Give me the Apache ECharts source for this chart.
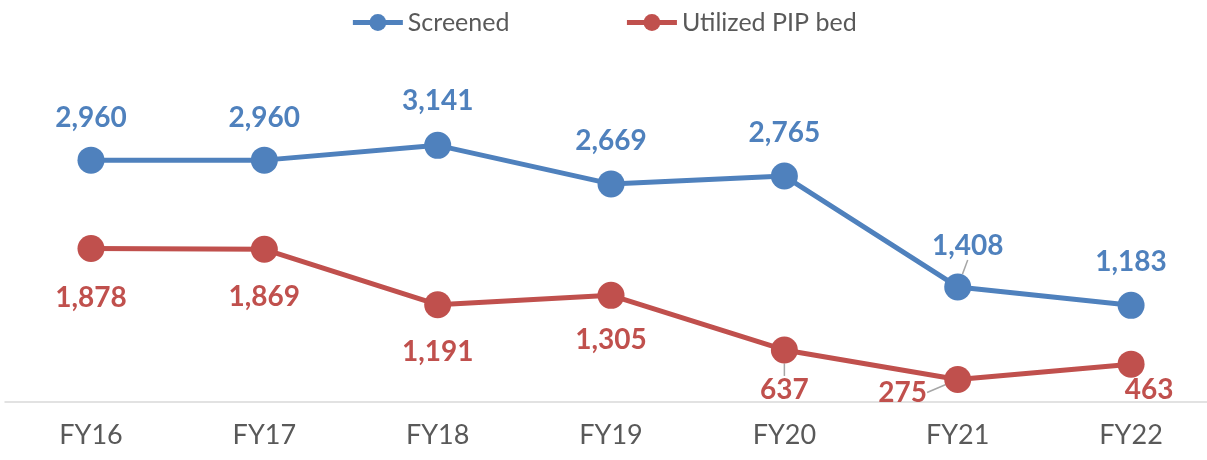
<!DOCTYPE html>
<html>
<head>
<meta charset="utf-8">
<script src="https://cdn.jsdelivr.net/npm/echarts@6/dist/echarts.min.js"></script>
<style>
  html, body { margin: 0; padding: 0; background: #fff; }
  #chart-container { width: 1207px; height: 460px; }
</style>
</head>
<body>
<div id="chart-container"></div>
<script>
var years = ['FY16', 'FY17', 'FY18', 'FY19', 'FY20', 'FY21', 'FY22'];
var screened = [2960, 2960, 3141, 2669, 2765, 1408, 1183];
var utilized = [1878, 1869, 1191, 1305, 637, 275, 463];

// label offsets per point (px from marker centre), and which ones get a leader line
var screenedOffsets = [[0, -42], [0, -42], [0, -44], [0, -43], [0, -43], [10, -41], [0, -43]];
var utilizedOffsets = [[0, 49], [0, 48], [0, 47], [0, 45], [0, 40], [-55, 13], [18, 26]];
var screenedLeader = [false, false, false, false, false, true, false];
var utilizedLeader = [false, false, false, false, true, true, false];

var blue = '#4F81BD';
var red = '#C0504D';
var font = 'Lato, "Open Sans", sans-serif';

function withLabels(values, color, leaders) {
    return values.map(function (v, i) {
        return {
            value: [i, v],
            label: {
                show: true,
                position: 'inside',
                color: color,
                fontFamily: font,
                fontWeight: 'bold',
                fontSize: 28,
                formatter: function (p) {
                    return p.value[1].toLocaleString('en-US');
                }
            },
            labelLine: {
                show: leaders[i],
                lineStyle: { color: '#a6a6a6', width: 1.5 }
            }
        };
    });
}

function layoutFrom(offsets) {
    return function (params) {
        var o = offsets[params.dataIndex];
        return { dx: o[0], dy: o[1] };
    };
}

var dom = document.getElementById('chart-container');
var myChart = echarts.init(dom, null, { renderer: 'canvas' });

var option = {
    animation: false,
    legend: {
        top: 5,
        left: 'center',
        itemWidth: 50,
        itemHeight: 21,
        itemGap: 115,
        lineStyle: { width: 5 },
        textStyle: { fontFamily: font, fontSize: 25, color: '#595959' },
        data: ['Screened', 'Utilized PIP bed']
    },
    grid: { left: 5, right: 0, top: 116, bottom: 58 },
    xAxis: {
        type: 'value',
        min: -0.496,
        max: 6.438,
        splitLine: { show: false },
        axisLine: { show: true, lineStyle: { color: '#d9d9d9', width: 1.5 } },
        axisTick: { show: false },
        axisLabel: {
            customValues: [0, 1, 2, 3, 4, 5, 6],
            formatter: function (v) { return years[Math.round(v)]; },
            fontFamily: font,
            fontSize: 27,
            color: '#595959',
            margin: 20
        }
    },
    yAxis: {
        type: 'value',
        min: 0,
        max: 3500,
        show: false,
        splitLine: { show: false }
    },
    series: [
        {
            name: 'Screened',
            type: 'line',
            data: withLabels(screened, blue, screenedLeader),
            labelLayout: layoutFrom(screenedOffsets),
            symbol: 'circle',
            symbolSize: 27,
            itemStyle: { color: blue },
            lineStyle: { color: blue, width: 5 }
        },
        {
            name: 'Utilized PIP bed',
            type: 'line',
            data: withLabels(utilized, red, utilizedLeader),
            labelLayout: layoutFrom(utilizedOffsets),
            symbol: 'circle',
            symbolSize: 27,
            itemStyle: { color: red },
            lineStyle: { color: red, width: 5 }
        }
    ]
};

myChart.setOption(option);
window.addEventListener('resize', myChart.resize);
</script>
</body>
</html>
